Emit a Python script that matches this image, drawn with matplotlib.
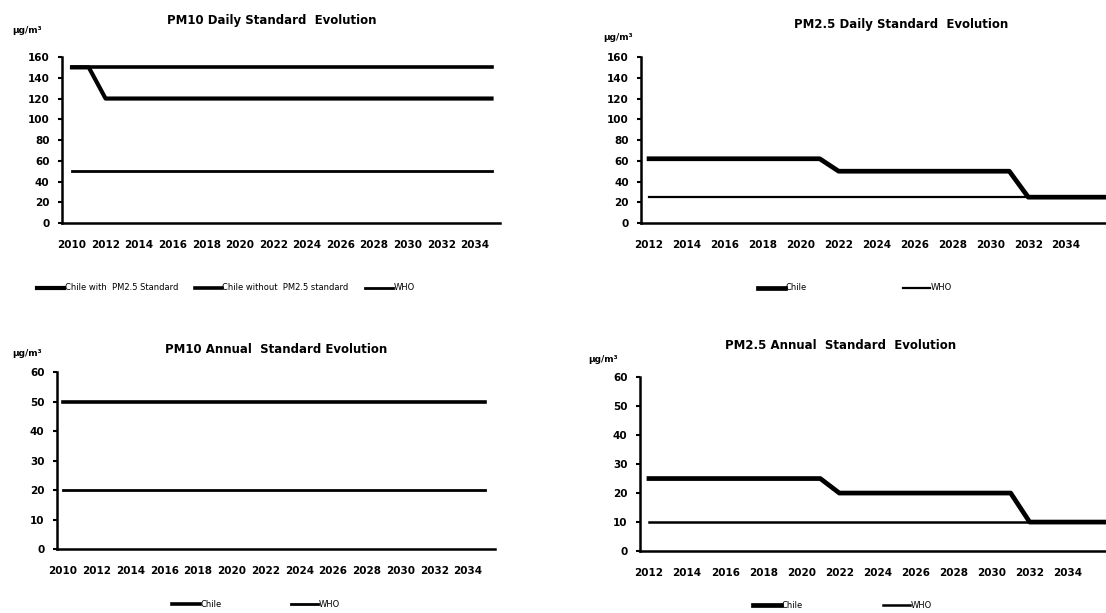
import matplotlib
matplotlib.use("Agg")
import matplotlib.pyplot as plt

# PM10 daily (ug/m3), 2010-2035
pm10_years = list(range(2010, 2036))
pm10_daily_with = [150, 150] + [120] * 24
pm10_daily_without = [150] * 26
pm10_daily_who = [50] * 26

# PM10 annual
pm10_annual_chile = [50] * 26
pm10_annual_who = [20] * 26

# PM2.5 daily, 2012-2036
pm25_years = list(range(2012, 2037))
pm25_daily_chile = [62] * 10 + [50] * 10 + [25] * 5
pm25_daily_who = [25] * 25

# PM2.5 annual
pm25_annual_chile = [25] * 10 + [20] * 10 + [10] * 5
pm25_annual_who = [10] * 25

plt.rcParams["font.family"] = "DejaVu Sans"

fig = plt.figure(figsize=(11.06, 6.13), dpi=100)


def style_axes(ax, years, ylim, yticks, xlim):
    ax.set_xlim(*xlim)
    ax.set_ylim(*ylim)
    ax.set_yticks(yticks)
    # labels every two years, last one 2034
    idx = [i for i in range(0, len(years), 2) if years[i] <= 2034]
    ax.set_xticks(idx)
    ax.set_xticklabels([str(years[i]) for i in idx])
    for s in ["top", "right"]:
        ax.spines[s].set_visible(False)
    for s in ["left", "bottom"]:
        ax.spines[s].set_linewidth(1.8)
    ax.tick_params(axis="y", length=3, width=1.5, labelsize=7.5, pad=6)
    ax.tick_params(axis="x", length=0, labelsize=7.5, pad=12)
    for lab in ax.get_xticklabels() + ax.get_yticklabels():
        lab.set_fontweight("bold")


def add_legend(ax, anchor, spacing):
    leg = ax.legend(loc="center left", bbox_to_anchor=anchor, ncol=3, frameon=False,
                    fontsize=6, handlelength=3.3, handletextpad=0.05, columnspacing=spacing)
    return leg


# top left: PM10 daily
ax1 = fig.add_axes([0.056, 0.636, 0.396, 0.271])
x = range(len(pm10_years))
ax1.plot(x, pm10_daily_with, color="black", lw=3.0, label="Chile with  PM2.5 Standard")
ax1.plot(x, pm10_daily_without, color="black", lw=2.6, label="Chile without  PM2.5 standard")
ax1.plot(x, pm10_daily_who, color="black", lw=2.0, label="WHO")
style_axes(ax1, pm10_years, (0, 160), range(0, 161, 20), (-0.6, 25.5))
ax1.set_title("PM10 Daily Standard  Evolution", fontsize=8.5, fontweight="bold", x=0.48, pad=24)
fig.text(0.011, 0.946, "µg/m³", fontsize=6.5, fontweight="bold")
add_legend(ax1, (-0.075, -0.39), 2.0)

# top right: PM2.5 daily
ax2 = fig.add_axes([0.580, 0.636, 0.420, 0.271])
x = range(len(pm25_years))
ax2.plot(x, pm25_daily_chile, color="black", lw=3.4, label="Chile")
ax2.plot(x, pm25_daily_who, color="black", lw=1.6, label="WHO")
style_axes(ax2, pm25_years, (0, 160), range(0, 161, 20), (-0.4, 24.1))
ax2.set_title("PM2.5 Daily Standard  Evolution", fontsize=8.5, fontweight="bold", x=0.56, pad=21)
fig.text(0.545, 0.934, "µg/m³", fontsize=6.5, fontweight="bold")
add_legend(ax2, (0.234, -0.39), 11.5)

# bottom left: PM10 annual
ax3 = fig.add_axes([0.0515, 0.104, 0.396, 0.289])
x = range(len(pm10_years))
ax3.plot(x, pm10_annual_chile, color="black", lw=2.6, label="Chile")
ax3.plot(x, pm10_annual_who, color="black", lw=2.0, label="WHO")
style_axes(ax3, pm10_years, (0, 60), range(0, 61, 10), (-0.36, 25.6))
ax3.set_title("PM10 Annual  Standard Evolution", fontsize=8.5, fontweight="bold", x=0.5, pad=14)
fig.text(0.011, 0.420, "µg/m³", fontsize=6.5, fontweight="bold")
add_legend(ax3, (0.246, -0.31), 8.3)

# bottom right: PM2.5 annual
ax4 = fig.add_axes([0.5787, 0.101, 0.422, 0.284])
x = range(len(pm25_years))
ax4.plot(x, pm25_annual_chile, color="black", lw=3.4, label="Chile")
ax4.plot(x, pm25_annual_who, color="black", lw=1.8, label="WHO")
style_axes(ax4, pm25_years, (0, 60), range(0, 61, 10), (-0.47, 24.05))
ax4.set_title("PM2.5 Annual  Standard  Evolution", fontsize=8.5, fontweight="bold", x=0.43, pad=20)
fig.text(0.532, 0.410, "µg/m³", fontsize=6.5, fontweight="bold")
add_legend(ax4, (0.227, -0.31), 9.6)

fig.savefig("out.png", dpi=100)
